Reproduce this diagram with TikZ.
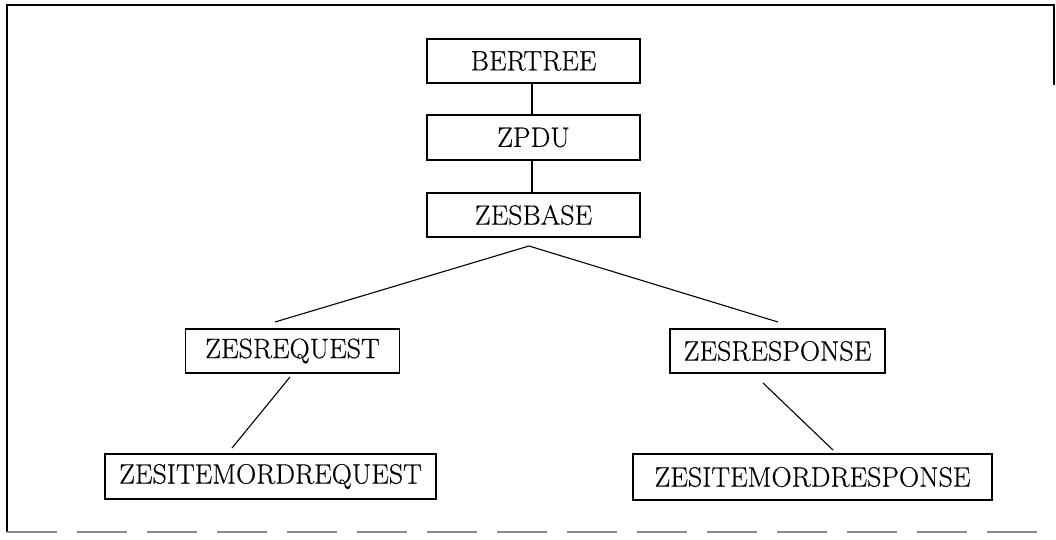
\documentclass[tikz,border=0pt]{standalone}
\usepackage{fontspec}
\setmainfont{Latin Modern Roman}
\newfontfamily\boxfont{Latin Modern Roman}[FakeBold=0.4]
\usetikzlibrary{calc}
\begin{document}
\begin{tikzpicture}[x=1pt,y=-1pt,
  box/.style={draw=black,line width=1.3pt,inner sep=0pt,minimum height=44pt,font=\boxfont\fontsize{28}{32}\selectfont},
  link/.style={draw=black,line width=1.1pt},
  frameline/.style={draw=black,line width=1.3pt}]
\useasboundingbox (0,0) rectangle (1056,539);
% frame
\draw[frameline] (7,532) -- (7,5) -- (1054,5) -- (1054,85);
\draw[draw=black!45,line width=1.3pt,dash pattern=on 50pt off 20pt] (7,532) -- (1054,532);
% boxes
\node[box,minimum width=213pt] (bertree) at (533.5,61) {BERTREE};
\node[box,minimum width=213pt,minimum height=45pt] (zpdu) at (533.5,137.5) {ZPDU};
\node[box,minimum width=213pt] (zesbase) at (533.5,215) {ZESBASE};
\node[box,minimum width=214pt] (zesreq) at (292.5,351) {ZESREQUEST};
\node[box,minimum width=215pt] (zesresp) at (777.5,351) {ZESRESPONSE};
\node[box,minimum width=331pt,minimum height=45pt] (itemreq) at (270.5,476.5) {ZESITEMORDREQUEST};
\node[box,minimum width=359pt,minimum height=46pt] (itemresp) at (812.5,477) {ZESITEMORDRESPONSE};
% connector points
\coordinate (apex) at (529,246);
\coordinate (reqtop) at (275,322);
\coordinate (resptop) at (778,322);
\coordinate (reqbot) at (290,377);
\coordinate (itemreqtop) at (232,448);
\coordinate (respbot) at (763,383);
\coordinate (itemresptop) at (833,450);
% connectors
\draw[link] (bertree.south -| 532,0) -- (zpdu.north -| 532,0);
\draw[link] (zpdu.south -| 532,0) -- (zesbase.north -| 532,0);
\draw[link] (reqtop) -- (apex) -- (resptop);
\draw[link] (reqbot) -- (itemreqtop);
\draw[link] (respbot) -- (itemresptop);
\end{tikzpicture}
\end{document}
